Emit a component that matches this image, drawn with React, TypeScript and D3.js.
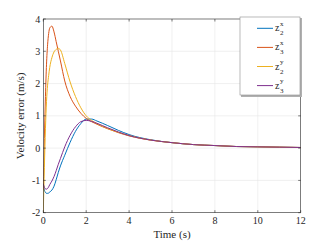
import React from "react";
import * as d3 from "d3";

const time = [0, 0.05, 0.1, 0.15, 0.2, 0.25, 0.3, 0.4, 0.5, 0.6, 0.7, 0.8, 1, 1.25, 1.5, 1.75, 2, 2.25, 2.5, 3, 3.5, 4, 5, 6, 7, 8, 9, 10, 11, 12];

const z2x = [-1.1, -1.3, -1.37, -1.4, -1.4, -1.39, -1.36, -1.3, -1.18, -0.98, -0.75, -0.55, -0.22, 0.18, 0.52, 0.76, 0.9, 0.9, 0.84, 0.7, 0.55, 0.42, 0.26, 0.17, 0.11, 0.08, 0.05, 0.04, 0.03, 0.02];
const z3x = [-1.3, 0.3, 1.6, 2.6, 3.2, 3.55, 3.72, 3.78, 3.6, 3.3, 3.0, 2.7, 2.08, 1.6, 1.3, 1.08, 0.92, 0.82, 0.74, 0.6, 0.48, 0.38, 0.25, 0.17, 0.11, 0.08, 0.05, 0.04, 0.03, 0.02];
const z2y = [-2, -0.6, 0.6, 1.45, 1.95, 2.25, 2.5, 2.8, 2.98, 3.06, 3.09, 3.04, 2.62, 2.05, 1.6, 1.25, 1.0, 0.86, 0.76, 0.61, 0.49, 0.39, 0.25, 0.17, 0.11, 0.08, 0.05, 0.04, 0.03, 0.02];
const z3y = [-1.1, -1.22, -1.26, -1.27, -1.25, -1.2, -1.13, -1.02, -0.88, -0.7, -0.5, -0.32, 0.04, 0.4, 0.66, 0.82, 0.86, 0.83, 0.77, 0.63, 0.5, 0.39, 0.25, 0.17, 0.11, 0.08, 0.05, 0.04, 0.03, 0.02];

const xTicks = [0, 2, 4, 6, 8, 10, 12];
const yTicks = [-2, -1, 0, 1, 2, 3, 4];

const series = [
  { name: "x", sub: "2", values: z2x, color: "#0072BD" },
  { name: "x", sub: "3", values: z3x, color: "#D95319" },
  { name: "y", sub: "2", values: z2y, color: "#EDB120" },
  { name: "y", sub: "3", values: z3y, color: "#7E2F8E" },
];

export default function App() {
  const width = 332;
  const height = 244;
  const left = 43.3;
  const right = 300.7;
  const top = 19;
  const bottom = 212.7;

  const x = d3.scaleLinear().domain([0, 12]).range([left, right]);
  const y = d3.scaleLinear().domain([-2, 4]).range([bottom, top]);

  const line = d3
    .line<number>()
    .x((_, i) => x(time[i]))
    .y((d) => y(d))
    .curve(d3.curveMonotoneX);

  const axisColor = "#262626";
  const font = '"Liberation Serif", "DejaVu Serif", serif';

  return (
    <svg
      width={width}
      height={height}
      style={{ position: "absolute", left: 0, top: 0, background: "white" }}
    >
      {/* grid */}
      {xTicks.slice(1, -1).map((t) => (
        <line key={"gx" + t} x1={x(t)} x2={x(t)} y1={top} y2={bottom} stroke="#e6e6e6" strokeWidth={0.6} />
      ))}
      {yTicks.slice(1, -1).map((t) => (
        <line key={"gy" + t} x1={left} x2={right} y1={y(t)} y2={y(t)} stroke="#e6e6e6" strokeWidth={0.6} />
      ))}

      <defs>
        <clipPath id="plot">
          <rect x={left} y={top} width={right - left} height={bottom - top} />
        </clipPath>
      </defs>

      {/* series */}
      <g clipPath="url(#plot)">
        {series.map((s, i) => (
          <path key={i} d={line(s.values) ?? ""} fill="none" stroke={s.color} strokeWidth={1} />
        ))}
      </g>

      {/* axes box */}
      <rect x={left} y={top} width={right - left} height={bottom - top} fill="none" stroke={axisColor} strokeWidth={0.6} />
      <g style={{ fontFamily: font }} fill={axisColor}>
        {xTicks.map((t) => (
          <g key={"xt" + t}>
            <line x1={x(t)} x2={x(t)} y1={bottom} y2={bottom - 2.5} stroke={axisColor} strokeWidth={0.6} />
            <line x1={x(t)} x2={x(t)} y1={top} y2={top + 2.5} stroke={axisColor} strokeWidth={0.6} />
            <text x={x(t)} y={bottom + 11} textAnchor="middle" fontSize={10}>
              {t}
            </text>
          </g>
        ))}
        {yTicks.map((t) => (
          <g key={"yt" + t}>
            <line x1={left} x2={left + 2.5} y1={y(t)} y2={y(t)} stroke={axisColor} strokeWidth={0.6} />
            <line x1={right} x2={right - 2.5} y1={y(t)} y2={y(t)} stroke={axisColor} strokeWidth={0.6} />
            <text x={left - 3} y={y(t) + 3.5} textAnchor="end" fontSize={10}>
              {t}
            </text>
          </g>
        ))}

        <text x={(left + right) / 2} y={238} textAnchor="middle" fontSize={11}>
          Time (s)
        </text>
        <text transform={`translate(24,${(top + bottom) / 2}) rotate(-90)`} textAnchor="middle" fontSize={11}>
          Velocity error (m/s)
        </text>

        {/* legend */}
        <rect x={241} y={18} width={61} height={79} fill="#b0b0b0" />
        <rect x={240} y={17} width={60} height={78} fill="white" stroke="#8c8c8c" strokeWidth={0.6} />
        {series.map((s, i) => {
          const ly = 28.3 + i * 19.1;
          return (
            <g key={"lg" + i}>
              <line x1={257} x2={273} y1={ly} y2={ly} stroke={s.color} strokeWidth={1} />
              <text x={275} y={ly + 3} fontSize={10}>
                z
              </text>
              <text x={280} y={ly - 2.5} fontSize={7}>
                {s.name}
              </text>
              <text x={280} y={ly + 7} fontSize={7}>
                {s.sub}
              </text>
            </g>
          );
        })}
      </g>
    </svg>
  );
}
